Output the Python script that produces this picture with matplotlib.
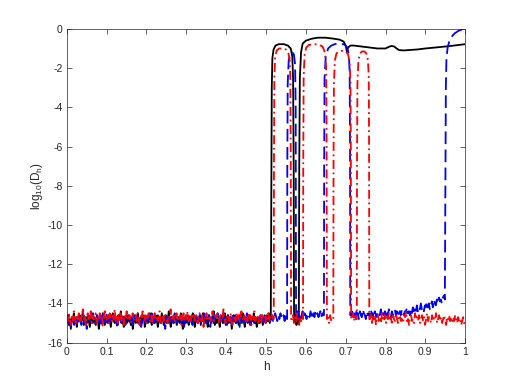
import numpy as np
import matplotlib
matplotlib.use("Agg")
import matplotlib.pyplot as plt

plt.rcParams['font.family'] = ['Liberation Sans', 'DejaVu Sans']
plt.rcParams['mathtext.fontset'] = 'custom'
plt.rcParams['mathtext.rm'] = 'Liberation Sans'
plt.rcParams['mathtext.it'] = 'Liberation Sans:italic'
plt.rcParams['axes.unicode_minus'] = False

# ---------------- data ----------------
x_ticks = [0, 0.1, 0.2, 0.3, 0.4, 0.5, 0.6, 0.7, 0.8, 0.9, 1.0]
x_tick_labels = ['0', '0.1', '0.2', '0.3', '0.4', '0.5', '0.6', '0.7', '0.8', '0.9', '1']
y_ticks = [0, -2, -4, -6, -8, -10, -12, -14, -16]
y_tick_labels = ['0', '-2', '-4', '-6', '-8', '-10', '-12', '-14', '-16']

# black (solid)
black_noise_a_range = (0.0, 0.512)
black_noise_a = [
    -14.9, -14.6, -15.1, -14.8, -15.3, -14.7, -14.9, -14.5, -15.0, -14.8,
    -15.2, -14.7, -14.9, -14.6, -15.0, -14.8, -14.4, -15.1, -14.9, -14.7,
    -15.0, -14.6, -14.9, -15.2, -14.8, -14.5, -15.0, -14.7, -14.9, -15.1,
    -14.6, -14.8, -15.3, -14.9, -14.7, -15.0, -14.5, -14.8, -15.1, -14.9,
    -14.7, -15.0, -14.6, -14.9, -15.2, -14.8, -14.5, -14.9, -15.0, -14.7,
    -14.9, -15.1, -14.6, -14.8, -14.4, -15.0, -14.9, -15.2, -14.7, -14.8,
    -15.0, -14.6, -14.9, -14.7, -15.1, -14.8, -15.3, -14.9, -14.6, -15.0,
    -14.8, -14.5, -14.9, -15.1, -14.7, -15.0, -14.8, -14.6, -15.2, -14.9,
    -14.7, -15.0, -14.8, -14.5, -14.9, -15.1, -14.7, -14.9, -15.0, -14.6,
    -14.8, -15.2, -14.9, -14.7, -15.0, -14.5, -14.8, -15.1, -14.9, -14.6,
    -15.0, -14.8, -14.4, -14.9, -15.2, -14.7, -14.9, -15.0, -14.6, -14.8,
    -15.1, -14.9, -14.7, -15.0, -14.5, -14.8, -15.3, -14.9, -14.7, -15.0,
    -14.6, -14.9, -15.1, -14.8, -14.7, -15.0, -14.5, -14.9, -15.2, -14.8,
    -14.7, -15.0, -14.9, -14.6, -15.1, -14.8, -14.5, -14.9, -15.0, -14.7,
    -14.9, -15.2, -14.6, -14.8, -15.0, -14.7, -14.9, -14.4, -15.1, -14.8,
    -15.0, -14.7, -14.9, -15.2, -14.6, -14.8, -15.0, -14.9, -14.5, -15.1,
    -14.8, -14.6, -15.0, -14.9, -14.7, -15.3, -14.8, -14.6, -14.9, -15.0,
    -14.7, -14.9, -15.1, -14.6, -14.8, -15.0, -14.5, -14.9, -15.2, -14.7,
    -14.9, -15.0, -14.6, -14.8, -15.1, -14.7, -14.9, -14.5, -15.0, -14.8,
    -15.2, -14.7, -14.9, -15.0, -14.6, -14.8, -15.1, -14.9, -14.7, -15.0,
    -14.6, -14.9, -14.8, -15.0, -14.8]
black_loop1_h = [0.5135, 0.5145, 0.516, 0.519, 0.524, 0.532, 0.545, 0.555,
                 0.562, 0.566, 0.568, 0.5695, 0.5705]
black_loop1_y = [-8.0, -3.0, -1.5, -1.05, -0.85, -0.78, -0.78, -0.85,
                 -1.0, -1.4, -2.5, -7.0, -14.8]
black_noise_b_range = (0.572, 0.581)
black_noise_b = [-14.9, -14.6, -15.1, -14.7, -15.0]
black_main_h = [0.5825, 0.5835, 0.585, 0.588, 0.592, 0.600, 0.615, 0.630, 0.650,
                0.670, 0.685, 0.695, 0.700, 0.703, 0.706, 0.712, 0.720, 0.740,
                0.760, 0.780, 0.800, 0.808, 0.815, 0.822, 0.828, 0.834, 0.845,
                0.860, 0.880, 0.900, 0.920, 0.940, 0.960, 0.980, 1.0]
black_main_y = [-14.8, -7.0, -2.5, -1.2, -0.75, -0.6, -0.5, -0.45, -0.45,
                -0.5, -0.55, -0.65, -0.85, -1.15, -0.95, -0.85, -0.85, -0.9,
                -0.95, -1.0, -1.0, -0.92, -0.87, -0.9, -1.0, -1.08, -1.1,
                -1.08, -1.05, -1.0, -0.96, -0.92, -0.88, -0.83, -0.78]

# red (dash-dot)
red_noise_a_range = (0.0, 0.5185)
red_noise_a = [
    -14.7, -14.9, -14.5, -14.8, -15.1, -14.6, -14.9, -14.4, -14.8, -15.0,
    -14.6, -14.8, -14.5, -15.0, -14.7, -14.9, -14.3, -14.8, -14.6, -15.1,
    -14.7, -14.5, -14.9, -14.8, -14.4, -15.0, -14.6, -14.8, -14.7, -14.5,
    -15.0, -14.7, -14.9, -14.5, -14.8, -14.6, -15.2, -14.7, -14.4, -14.9,
    -14.8, -14.6, -15.0, -14.5, -14.7, -14.9, -14.6, -14.8, -14.3, -14.9,
    -14.7, -15.0, -14.6, -14.8, -14.5, -14.9, -14.7, -15.1, -14.6, -14.8,
    -14.4, -14.9, -14.7, -14.6, -15.0, -14.8, -14.5, -14.9, -14.7, -14.6,
    -14.9, -14.5, -14.8, -15.1, -14.6, -14.7, -14.4, -14.9, -14.8, -14.6,
    -15.0, -14.7, -14.5, -14.8, -14.9, -14.6, -15.1, -14.7, -14.5, -14.8,
    -14.6, -14.9, -14.7, -14.4, -15.0, -14.8, -14.6, -14.9, -14.5, -14.7,
    -14.8, -15.0, -14.6, -14.7, -14.3, -14.9, -14.8, -14.6, -15.0, -14.7,
    -14.5, -14.9, -14.7, -14.8, -14.6, -15.1, -14.7, -14.5, -14.9, -14.6,
    -14.8, -14.4, -14.9, -14.7, -15.0, -14.6, -14.8, -14.5, -14.9, -14.7,
    -14.6, -15.0, -14.8, -14.5, -14.7, -14.9, -14.6, -15.2, -14.7, -14.8,
    -14.5, -14.9, -14.6, -14.8, -14.7, -15.0, -14.4, -14.8, -14.9, -14.6,
    -14.7, -14.5, -15.0, -14.8, -14.6, -14.9, -14.7, -14.3, -14.8, -15.0,
    -14.6, -14.8, -14.7, -14.9, -14.5, -14.8, -15.1, -14.6, -14.7, -14.9,
    -14.5, -14.8, -14.6, -15.0, -14.7, -14.4, -14.9, -14.8, -14.6, -15.0,
    -14.7, -14.9, -14.5, -14.8, -14.6, -15.1, -14.7, -14.8, -14.4, -14.9,
    -14.6, -14.8, -15.0, -14.7, -14.5, -14.9, -14.6, -14.8, -14.7, -15.0,
    -14.6, -14.8, -14.5, -14.9, -14.7, -14.8, -14.6, -14.8]
red_loop1_h = [0.5195, 0.5200, 0.5210, 0.523, 0.527, 0.533, 0.542, 0.550,
               0.556, 0.5595, 0.561, 0.562, 0.563]
red_loop1_y = [-14.8, -7.0, -2.5, -1.4, -1.1, -1.0, -1.0, -1.05,
               -1.2, -1.6, -2.5, -6.0, -14.8]
red_noise_b_range = (0.565, 0.591)
red_noise_b = [-14.8, -14.6, -15.0, -14.7, -14.9, -14.5, -14.8, -15.1, -14.7, -14.9, -14.7]
red_loop2_h = [0.593, 0.5935, 0.5945, 0.597, 0.601, 0.608, 0.620, 0.632,
               0.642, 0.648, 0.651, 0.652, 0.653]
red_loop2_y = [-14.8, -7.0, -2.5, -1.3, -0.95, -0.82, -0.78, -0.8,
               -0.9, -1.2, -2.0, -5.0, -14.8]
red_noise_c_range = (0.655, 0.667)
red_noise_c = [-14.7, -15.0, -14.6, -14.9, -14.8]
red_loop3_h = [0.669, 0.6695, 0.6705, 0.673, 0.677, 0.683, 0.692, 0.700,
               0.706, 0.710, 0.712, 0.713, 0.7137]
red_loop3_y = [-14.8, -7.0, -2.8, -1.6, -1.25, -1.15, -1.12, -1.15,
               -1.3, -1.7, -2.7, -6.0, -14.8]
red_noise_d_range = (0.716, 0.726)
red_noise_d = [-14.8, -14.5, -14.9, -14.6, -14.8]
red_loop4_h = [0.728, 0.7285, 0.7295, 0.732, 0.736, 0.741, 0.747, 0.752,
               0.756, 0.758, 0.7588, 0.7593]
red_loop4_y = [-14.8, -7.0, -2.8, -1.6, -1.25, -1.15, -1.15, -1.25,
               -1.6, -2.5, -6.0, -14.8]
red_noise_e_range = (0.761, 1.0)
red_noise_e = [
    -14.8, -14.5, -15.0, -14.7, -14.9, -14.6, -15.1, -14.8, -14.6, -14.9,
    -14.7, -15.0, -14.5, -14.8, -14.9, -14.6, -15.0, -14.7, -14.8, -14.5,
    -14.9, -14.7, -15.1, -14.6, -14.8, -14.9, -14.5, -14.8, -15.0, -14.7,
    -14.6, -14.9, -14.8, -15.0, -14.6, -14.7, -14.4, -14.9, -14.8, -15.1,
    -14.7, -14.6, -14.9, -14.8, -15.0, -14.5, -14.8, -14.7, -14.9, -14.6,
    -15.0, -14.8, -14.6, -14.9, -14.7, -15.1, -14.8, -14.5, -14.9, -14.7,
    -14.8, -15.0, -14.6, -14.9, -14.7, -14.8, -14.5, -15.0, -14.8, -14.6,
    -14.9, -14.7, -15.0, -14.8, -14.6, -14.9, -15.1, -14.7, -14.8, -14.6,
    -14.9, -14.8, -15.0, -14.7, -14.9, -14.6, -14.8, -15.0, -14.7, -14.9,
    -14.8, -15.1, -14.9, -14.7, -15.0, -15.1]

# blue (dashed)
blue_noise_a_range = (0.0, 0.552)
blue_noise_a = [
    -14.8, -15.0, -14.6, -14.9, -15.2, -14.7, -14.8, -15.1, -14.6, -14.9,
    -15.0, -14.7, -14.5, -14.9, -15.1, -14.8, -14.6, -15.0, -14.7, -15.3,
    -14.8, -14.6, -14.9, -15.0, -14.7, -14.5, -14.9, -15.1, -14.8, -14.6,
    -15.0, -14.8, -14.7, -15.2, -14.6, -14.9, -14.8, -15.0, -14.5, -14.9,
    -14.7, -15.1, -14.8, -14.6, -14.9, -15.0, -14.7, -14.8, -15.2, -14.6,
    -14.9, -14.7, -15.0, -14.8, -14.5, -14.9, -15.1, -14.7, -14.8, -14.6,
    -15.0, -14.9, -14.7, -15.1, -14.6, -14.8, -14.9, -14.5, -15.0, -14.8,
    -14.7, -15.2, -14.9, -14.6, -14.8, -15.0, -14.7, -14.9, -14.6, -15.1,
    -14.8, -14.5, -14.9, -15.0, -14.7, -14.8, -15.1, -14.6, -14.9, -14.7,
    -15.0, -14.8, -14.6, -14.9, -15.3, -14.7, -14.8, -15.0, -14.6, -14.9,
    -14.7, -15.1, -14.8, -14.5, -14.9, -15.0, -14.7, -14.8, -14.6, -15.0,
    -14.9, -14.7, -15.2, -14.8, -14.6, -14.9, -15.0, -14.7, -14.5, -14.9,
    -15.1, -14.8, -14.6, -14.9, -14.7, -15.0, -14.8, -14.6, -15.1, -14.7,
    -14.9, -14.5, -14.8, -15.0, -14.7, -14.9, -14.6, -15.2, -14.8, -14.7,
    -15.0, -14.6, -14.9, -14.8, -14.5, -15.1, -14.7, -14.9, -14.8, -14.6,
    -15.0, -14.7, -14.9, -15.1, -14.6, -14.8, -14.7, -15.0, -14.5, -14.9,
    -14.8, -14.6, -15.0, -14.7, -14.9, -15.2, -14.6, -14.8, -14.9, -14.7,
    -15.0, -14.8, -14.5, -14.9, -14.7, -15.1, -14.8, -14.6, -14.9, -15.0,
    -14.7, -14.8, -14.6, -15.0, -14.9, -14.5, -14.8, -14.7, -15.1, -14.6,
    -14.9, -14.7, -14.8, -14.5, -15.0, -14.7, -14.6, -14.9, -14.8, -14.5,
    -14.7, -14.9, -14.6, -14.8, -14.5, -14.7, -14.8, -14.6, -14.9, -14.5,
    -14.7]
blue_loop1_h = [0.553, 0.5535, 0.5545, 0.557, 0.561, 0.566, 0.570, 0.573, 0.5745, 0.5755]
blue_loop1_y = [-14.8, -7.0, -2.8, -1.6, -1.25, -1.2, -1.3, -1.8, -4.0, -14.8]
blue_noise_b_range = (0.577, 0.644)
blue_noise_b = [
    -14.6, -14.4, -14.7, -14.5, -14.8, -14.6, -14.4, -14.7, -14.5, -14.6,
    -14.8, -14.5, -14.6, -14.7, -14.4, -14.6, -14.8, -14.5, -14.7, -14.4,
    -14.6, -14.5, -14.7, -14.6, -14.4, -14.7, -14.5, -14.6]
blue_loop2_h = [0.6455, 0.646, 0.647, 0.650, 0.656, 0.664, 0.674, 0.686,
                0.697, 0.704, 0.708, 0.710, 0.711, 0.7115]
blue_loop2_y = [-14.6, -7.0, -2.5, -1.4, -1.0, -0.85, -0.77, -0.75,
                -0.8, -0.95, -1.3, -2.2, -6.0, -14.6]
blue_noise_c_range = (0.713, 0.949)
blue_noise_c = [
    -14.6, -14.4, -14.8, -14.5, -14.7, -14.3, -14.6, -14.5, -14.8, -14.4,
    -14.6, -14.7, -14.3, -14.5, -14.6, -14.8, -14.4, -14.6, -14.5, -14.7,
    -14.3, -14.6, -14.5, -14.8, -14.4, -14.6, -14.7, -14.4, -14.5, -14.6,
    -14.3, -14.7, -14.5, -14.6, -14.4, -14.8, -14.5, -14.6, -14.3, -14.5,
    -14.7, -14.4, -14.6, -14.5, -14.3, -14.6, -14.4, -14.7, -14.5, -14.4,
    -14.6, -14.3, -14.5, -14.6, -14.4, -14.5, -14.2, -14.5, -14.4, -14.6,
    -14.3, -14.5, -14.2, -14.4, -14.3, -14.5, -14.1, -14.4, -14.2, -14.3,
    -14.0, -14.3, -14.2, -14.4, -14.1, -14.2, -13.9, -14.2, -14.0, -14.3,
    -14.1, -13.9, -14.2, -13.8, -14.0, -14.1, -13.8, -14.0, -13.7, -13.9,
    -13.8, -14.0, -13.7, -13.6, -13.8]
blue_end_h = [0.9505, 0.9515, 0.953, 0.956, 0.960, 0.966, 0.974, 0.984, 0.993, 1.0]
blue_end_y = [-7.0, -3.0, -1.5, -0.95, -0.65, -0.4, -0.22, -0.09, -0.03, 0.0]


def noise_seg(rng, vals):
    return list(np.linspace(rng[0], rng[1], len(vals))), list(vals)


def build(parts):
    hs, ys = [], []
    for h, y in parts:
        hs += list(h)
        ys += list(y)
    return np.array(hs), np.array(ys)


black_h, black_y = build([
    noise_seg(black_noise_a_range, black_noise_a),
    (black_loop1_h, black_loop1_y),
    noise_seg(black_noise_b_range, black_noise_b),
    (black_main_h, black_main_y),
])
red_h, red_y = build([
    noise_seg(red_noise_a_range, red_noise_a),
    (red_loop1_h, red_loop1_y),
    noise_seg(red_noise_b_range, red_noise_b),
    (red_loop2_h, red_loop2_y),
    noise_seg(red_noise_c_range, red_noise_c),
    (red_loop3_h, red_loop3_y),
    noise_seg(red_noise_d_range, red_noise_d),
    (red_loop4_h, red_loop4_y),
    noise_seg(red_noise_e_range, red_noise_e),
])
blue_h, blue_y = build([
    noise_seg(blue_noise_a_range, blue_noise_a),
    (blue_loop1_h, blue_loop1_y),
    noise_seg(blue_noise_b_range, blue_noise_b),
    (blue_loop2_h, blue_loop2_y),
    noise_seg(blue_noise_c_range, blue_noise_c),
    (blue_end_h, blue_end_y),
])

# ---------------- figure ----------------
fig = plt.figure(figsize=(5.14, 3.85), dpi=100)
ax = fig.add_axes([0.13, 0.11, 0.775, 0.815])

ax.plot(black_h, black_y, color='k', lw=1.3, linestyle='-')
ax.plot(blue_h, blue_y, color='#0000ff', lw=1.3, linestyle=(0, (7.0, 3.0)))
ax.plot(red_h, red_y, color='#ff0000', lw=1.3, linestyle=(0, (5.0, 2.0, 1.0, 2.0)))

ax.set_xlim(0, 1)
ax.set_ylim(-16, 0)
ax.set_xticks(x_ticks)
ax.set_xticklabels(x_tick_labels)
ax.set_yticks(y_ticks)
ax.set_yticklabels(y_tick_labels)

axcol = '#262626'
for s in ax.spines.values():
    s.set_color(axcol)
    s.set_linewidth(0.5)
ax.tick_params(direction='in', top=True, right=True, length=3.5, width=0.5,
               labelsize=7.5, colors=axcol, pad=3)

ax.set_xlabel('h', fontsize=8.5, color=axcol, labelpad=3)
ax.set_ylabel(r'log$_{10}$(D$_{\mathrm{h}}$)', fontsize=8.5, color=axcol, labelpad=2)

fig.savefig('out.png', dpi=100)
